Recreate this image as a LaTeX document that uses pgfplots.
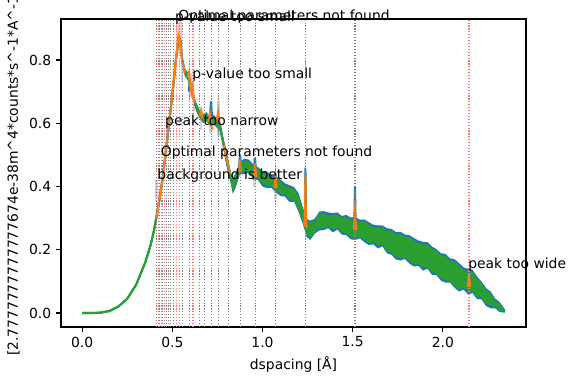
\documentclass[border=0pt]{standalone}
\usepackage{fontspec}
\setmainfont{DejaVu Sans}
\usepackage{pgfplots}
\pgfplotsset{compat=1.18}
\usepgfplotslibrary{fillbetween}
\usepackage{pgfplotstable}

\definecolor{tabblue}{HTML}{1F77B4}
\definecolor{taborange}{HTML}{FF7F0E}
\definecolor{tabgreen}{HTML}{2CA02C}

\pgfplotstableread{
x y glo ghi blo bhi
0.000 0.000 -0.002 0.002 -0.002 0.002
0.050 0.000 -0.002 0.002 -0.002 0.002
0.100 0.001 -0.001 0.003 -0.001 0.003
0.150 0.006 0.004 0.008 0.004 0.008
0.200 0.020 0.018 0.022 0.018 0.022
0.250 0.045 0.043 0.047 0.043 0.047
0.300 0.090 0.088 0.092 0.087 0.093
0.350 0.160 0.157 0.163 0.156 0.164
0.380 0.215 0.212 0.218 0.211 0.219
0.400 0.265 0.261 0.269 0.259 0.271
0.420 0.330 0.325 0.335 0.322 0.338
0.440 0.400 0.394 0.406 0.391 0.409
0.460 0.490 0.484 0.497 0.480 0.500
0.480 0.590 0.584 0.596 0.581 0.599
0.500 0.690 0.683 0.697 0.680 0.700
0.520 0.800 0.793 0.808 0.789 0.812
0.535 0.870 0.862 0.878 0.858 0.884
0.545 0.860 0.853 0.868 0.849 0.872
0.555 0.800 0.792 0.808 0.788 0.812
0.570 0.760 0.752 0.769 0.748 0.773
0.585 0.750 0.741 0.758 0.737 0.762
0.600 0.720 0.712 0.729 0.708 0.733
0.615 0.690 0.682 0.698 0.677 0.702
0.630 0.655 0.646 0.664 0.642 0.668
0.650 0.630 0.621 0.640 0.617 0.644
0.670 0.615 0.605 0.624 0.601 0.628
0.690 0.620 0.610 0.631 0.606 0.635
0.710 0.605 0.595 0.614 0.590 0.619
0.730 0.610 0.600 0.621 0.596 0.626
0.750 0.600 0.589 0.611 0.584 0.616
0.765 0.590 0.579 0.601 0.574 0.606
0.780 0.545 0.534 0.556 0.529 0.561
0.800 0.490 0.473 0.508 0.465 0.514
0.825 0.425 0.415 0.436 0.410 0.445
0.835 0.400 0.386 0.420 0.377 0.425
0.850 0.420 0.400 0.434 0.394 0.442
0.875 0.458 0.447 0.468 0.440 0.478
0.900 0.465 0.449 0.482 0.439 0.488
0.925 0.457 0.448 0.478 0.443 0.485
0.950 0.448 0.430 0.460 0.422 0.469
0.975 0.440 0.427 0.456 0.421 0.461
1.000 0.430 0.409 0.441 0.400 0.449
1.025 0.422 0.403 0.442 0.395 0.448
1.050 0.413 0.401 0.426 0.396 0.435
1.075 0.406 0.390 0.428 0.381 0.433
1.100 0.398 0.376 0.414 0.370 0.422
1.125 0.388 0.375 0.400 0.368 0.410
1.150 0.379 0.361 0.398 0.351 0.404
1.175 0.368 0.357 0.391 0.352 0.398
1.200 0.352 0.328 0.370 0.320 0.379
1.225 0.305 0.286 0.327 0.280 0.332
1.245 0.275 0.250 0.290 0.241 0.298
1.265 0.262 0.239 0.286 0.231 0.292
1.290 0.272 0.256 0.289 0.251 0.298
1.315 0.290 0.270 0.316 0.261 0.321
1.340 0.294 0.268 0.314 0.262 0.322
1.365 0.292 0.275 0.308 0.268 0.318
1.390 0.287 0.265 0.310 0.255 0.316
1.415 0.284 0.269 0.311 0.264 0.318
1.440 0.280 0.256 0.298 0.248 0.307
1.465 0.277 0.252 0.305 0.246 0.310
1.490 0.273 0.242 0.294 0.233 0.302
1.515 0.268 0.239 0.298 0.231 0.304
1.540 0.263 0.241 0.286 0.236 0.295
1.565 0.259 0.233 0.291 0.224 0.296
1.590 0.253 0.221 0.279 0.215 0.287
1.615 0.247 0.224 0.269 0.217 0.279
1.640 0.242 0.214 0.271 0.204 0.277
1.665 0.237 0.216 0.270 0.211 0.277
1.690 0.231 0.197 0.259 0.189 0.268
1.715 0.224 0.190 0.261 0.184 0.266
1.740 0.218 0.178 0.248 0.169 0.256
1.765 0.212 0.174 0.251 0.166 0.257
1.790 0.207 0.176 0.239 0.171 0.248
1.815 0.200 0.165 0.241 0.156 0.246
1.840 0.194 0.153 0.229 0.147 0.237
1.865 0.188 0.156 0.219 0.149 0.229
1.890 0.181 0.144 0.219 0.134 0.225
1.915 0.175 0.145 0.217 0.140 0.224
1.940 0.168 0.129 0.201 0.121 0.210
1.965 0.160 0.126 0.197 0.120 0.202
1.990 0.151 0.111 0.181 0.102 0.189
2.015 0.142 0.104 0.181 0.096 0.187
2.040 0.132 0.101 0.164 0.096 0.173
2.065 0.124 0.089 0.165 0.080 0.170
2.090 0.115 0.074 0.150 0.068 0.158
2.115 0.108 0.081 0.134 0.074 0.144
2.140 0.101 0.069 0.134 0.059 0.140
2.165 0.093 0.068 0.130 0.063 0.137
2.190 0.082 0.052 0.106 0.044 0.115
2.215 0.070 0.049 0.094 0.043 0.099
2.240 0.056 0.031 0.071 0.022 0.079
2.265 0.042 0.023 0.062 0.015 0.068
2.290 0.028 0.020 0.037 0.015 0.046
2.315 0.016 0.008 0.030 0.003 0.035
2.344 0.006 0.003 0.010 0.001 0.012
}\datatab

\begin{document}
\begin{tikzpicture}
\begin{axis}[
  name=ax,
  scale only axis,
  width=334.8pt, height=221.76pt,
  xmin=-0.1172, xmax=2.4614, ymin=-0.0443, ymax=0.9297,
  xtick={0,0.5,1,1.5,2}, ytick={0,0.2,0.4,0.6,0.8},
  /pgf/number format/assume math mode=true,
  xticklabel style={/pgf/number format/.cd, fixed, fixed zerofill, precision=1},
  yticklabel style={/pgf/number format/.cd, fixed, fixed zerofill, precision=1},
  tick label style={font=\fontsize{10pt}{12pt}\selectfont},
  tick align=outside,
  major tick length=3.5pt,
  every tick/.style={black, line width=0.8pt},
  axis line style={line width=0.8pt},
  xtick pos=bottom, ytick pos=left,
  xlabel={dspacing [Å]},
  ylabel={[2.7777777777777674e-38m\textasciicircum{}4*counts*s\textasciicircum{}-1*A\textasciicircum{}-1]},
  label style={font=\fontsize{10pt}{12pt}\selectfont},
  clip mode=individual,
]
% fit windows
\addplot[draw=none, fill=gray, fill opacity=0.35] coordinates {(0.404,0.36) (0.418,0.36) (0.418,0.42) (0.404,0.42)} -- cycle;
\addplot[draw=none, fill=gray, fill opacity=0.35] coordinates {(0.548,0.73) (0.562,0.73) (0.562,0.81) (0.548,0.81)} -- cycle;
\addplot[draw=none, fill=gray, fill opacity=0.35] coordinates {(0.612,0.64) (0.626,0.64) (0.626,0.68) (0.612,0.68)} -- cycle;
\addplot[draw=none, fill=gray, fill opacity=0.35] coordinates {(0.652,0.58) (0.666,0.58) (0.666,0.65) (0.652,0.65)} -- cycle;
\addplot[draw=none, fill=gray, fill opacity=0.35] coordinates {(0.703,0.57) (0.717,0.57) (0.717,0.65) (0.703,0.65)} -- cycle;
\addplot[draw=none, fill=gray, fill opacity=0.35] coordinates {(0.748,0.56) (0.762,0.56) (0.762,0.67) (0.748,0.67)} -- cycle;
\addplot[draw=none, fill=gray, fill opacity=0.35] coordinates {(0.867,0.44) (0.883,0.44) (0.883,0.49) (0.867,0.49)} -- cycle;
\addplot[draw=none, fill=gray, fill opacity=0.35] coordinates {(0.950,0.40) (0.966,0.40) (0.966,0.49) (0.950,0.49)} -- cycle;
\addplot[draw=none, fill=gray, fill opacity=0.35] coordinates {(1.063,0.36) (1.079,0.36) (1.079,0.44) (1.063,0.44)} -- cycle;
\addplot[draw=none, fill=gray, fill opacity=0.35] coordinates {(1.229,0.27) (1.245,0.27) (1.245,0.44) (1.229,0.44)} -- cycle;
\addplot[draw=none, fill=gray, fill opacity=0.35] coordinates {(1.505,0.24) (1.521,0.24) (1.521,0.40) (1.505,0.40)} -- cycle;
\addplot[draw=none, fill=red, fill opacity=0.22] coordinates {(0.520,0.82) (0.552,0.82) (0.552,0.92) (0.520,0.92)} -- cycle;
\addplot[draw=none, fill=red, fill opacity=0.22] coordinates {(0.592,0.68) (0.608,0.68) (0.608,0.76) (0.592,0.76)} -- cycle;

% blue data band
\addplot[draw=none, name path=bh] table[x=x, y=bhi] {\datatab};
\addplot[draw=none, name path=bl] table[x=x, y=blo] {\datatab};
\addplot[tabblue] fill between[of=bh and bl];
\addplot[tabblue, line width=1.5pt] table[x=x, y=y] {\datatab};
% blue peaks
\addplot[tabblue, line width=1.5pt] coordinates {(0.592,0.70) (0.597,0.74) (0.602,0.70)};
\addplot[tabblue, line width=1.5pt] coordinates {(0.710,0.62) (0.715,0.67) (0.720,0.62)};
\addplot[tabblue, line width=1.5pt] coordinates {(0.871,0.46) (0.876,0.50) (0.881,0.46)};
\addplot[tabblue, line width=1.5pt] coordinates {(0.954,0.44) (0.959,0.49) (0.964,0.44)};
\addplot[tabblue, line width=1.5pt] coordinates {(1.067,0.41) (1.072,0.435) (1.077,0.41)};
\addplot[tabblue, line width=1.5pt] coordinates {(1.234,0.28) (1.238,0.46) (1.242,0.28)};
\addplot[tabblue, line width=1.5pt] coordinates {(1.509,0.27) (1.513,0.40) (1.517,0.27)};
\addplot[tabblue, line width=1.5pt] coordinates {(2.140,0.10) (2.145,0.135) (2.150,0.10)};

% green band
\addplot[draw=none, name path=gh] table[x=x, y=ghi] {\datatab};
\addplot[draw=none, name path=gl] table[x=x, y=glo] {\datatab};
\addplot[tabgreen] fill between[of=gh and gl];
\addplot[tabgreen, line width=1.5pt] table[x=x, y=y] {\datatab};

% orange fits
\addplot[taborange, line width=1.5pt] coordinates {(0.413,0.300) (0.42,0.33) (0.43,0.36) (0.44,0.40) (0.45,0.44) (0.46,0.49) (0.47,0.54) (0.48,0.59) (0.49,0.64) (0.50,0.69) (0.51,0.745) (0.52,0.80) (0.528,0.845) (0.535,0.876) (0.541,0.865) (0.548,0.83) (0.555,0.795) (0.562,0.78) (0.57,0.76)};
\addplot[taborange, line width=1.5pt] coordinates {(0.585,0.745) (0.592,0.76) (0.598,0.72) (0.606,0.70) (0.612,0.73) (0.618,0.68) (0.625,0.665)};
\addplot[taborange, line width=1.5pt] coordinates {(0.652,0.625) (0.66,0.64) (0.668,0.615)};
\addplot[taborange, line width=1.5pt] coordinates {(0.70,0.605) (0.708,0.63) (0.716,0.60) (0.722,0.58)};
\addplot[taborange, line width=1.5pt] coordinates {(0.745,0.605) (0.754,0.635) (0.762,0.60)};
\addplot[taborange, line width=1.5pt] coordinates {(0.785,0.53) (0.80,0.49) (0.81,0.465) (0.82,0.44)};
\addplot[taborange, line width=1.5pt] coordinates {(0.870,0.445) (0.876,0.485) (0.882,0.445)};
\addplot[taborange, line width=1.5pt] coordinates {(0.953,0.43) (0.959,0.472) (0.965,0.43)};
\addplot[taborange, line width=1.5pt] coordinates {(1.066,0.396) (1.072,0.428) (1.078,0.396)};
\addplot[taborange, line width=1.5pt] coordinates {(1.232,0.275) (1.236,0.33) (1.238,0.436) (1.240,0.33) (1.244,0.27)};
\addplot[taborange, line width=1.5pt] coordinates {(1.507,0.265) (1.511,0.30) (1.513,0.357) (1.515,0.30) (1.519,0.262)};
\addplot[taborange, line width=1.5pt] coordinates {(2.139,0.083) (2.145,0.125) (2.151,0.083)};

% peak position lines
\pgfplotsinvokeforeach{0.413,0.429,0.447,0.468,0.480,0.492,0.506,0.555,0.597,0.649,0.681,0.715,0.758,0.810,0.876,0.959,1.072,1.238,1.513}{
  \addplot[gray, line width=0.8pt, dash pattern=on 0.8pt off 1.3pt] coordinates {(#1,-0.0443) (#1,0.9297)};
}
\pgfplotsinvokeforeach{0.421,0.438,0.457,0.524,0.538,0.612,0.619,2.145}{
  \addplot[red!55, line width=0.8pt, dash pattern=on 0.8pt off 1.3pt] coordinates {(#1,-0.0443) (#1,0.9297)};
}

% annotations
\node[anchor=base west, inner sep=0pt] at (axis cs:0.532,0.9265) {Optimal parameters not found};
\node[anchor=base west, inner sep=0pt] at (axis cs:0.514,0.922) {p-value too small};
\node[anchor=base west, inner sep=0pt] at (axis cs:0.610,0.742) {p-value too small};
\node[anchor=base west, inner sep=0pt] at (axis cs:0.459,0.594) {peak too narrow};
\node[anchor=base west, inner sep=0pt] at (axis cs:0.435,0.496) {Optimal parameters not found};
\node[anchor=base west, inner sep=0pt] at (axis cs:0.416,0.4206) {background is better};
\node[anchor=base west, inner sep=0pt] at (axis cs:2.140,0.141) {peak too wide};
\end{axis}
\pgfresetboundingbox
\path[use as bounding box] ([xshift=-43.92pt, yshift=-39.6pt]ax.south west) rectangle ([xshift=34.56pt, yshift=13.68pt]ax.north east);
\end{tikzpicture}
\end{document}
